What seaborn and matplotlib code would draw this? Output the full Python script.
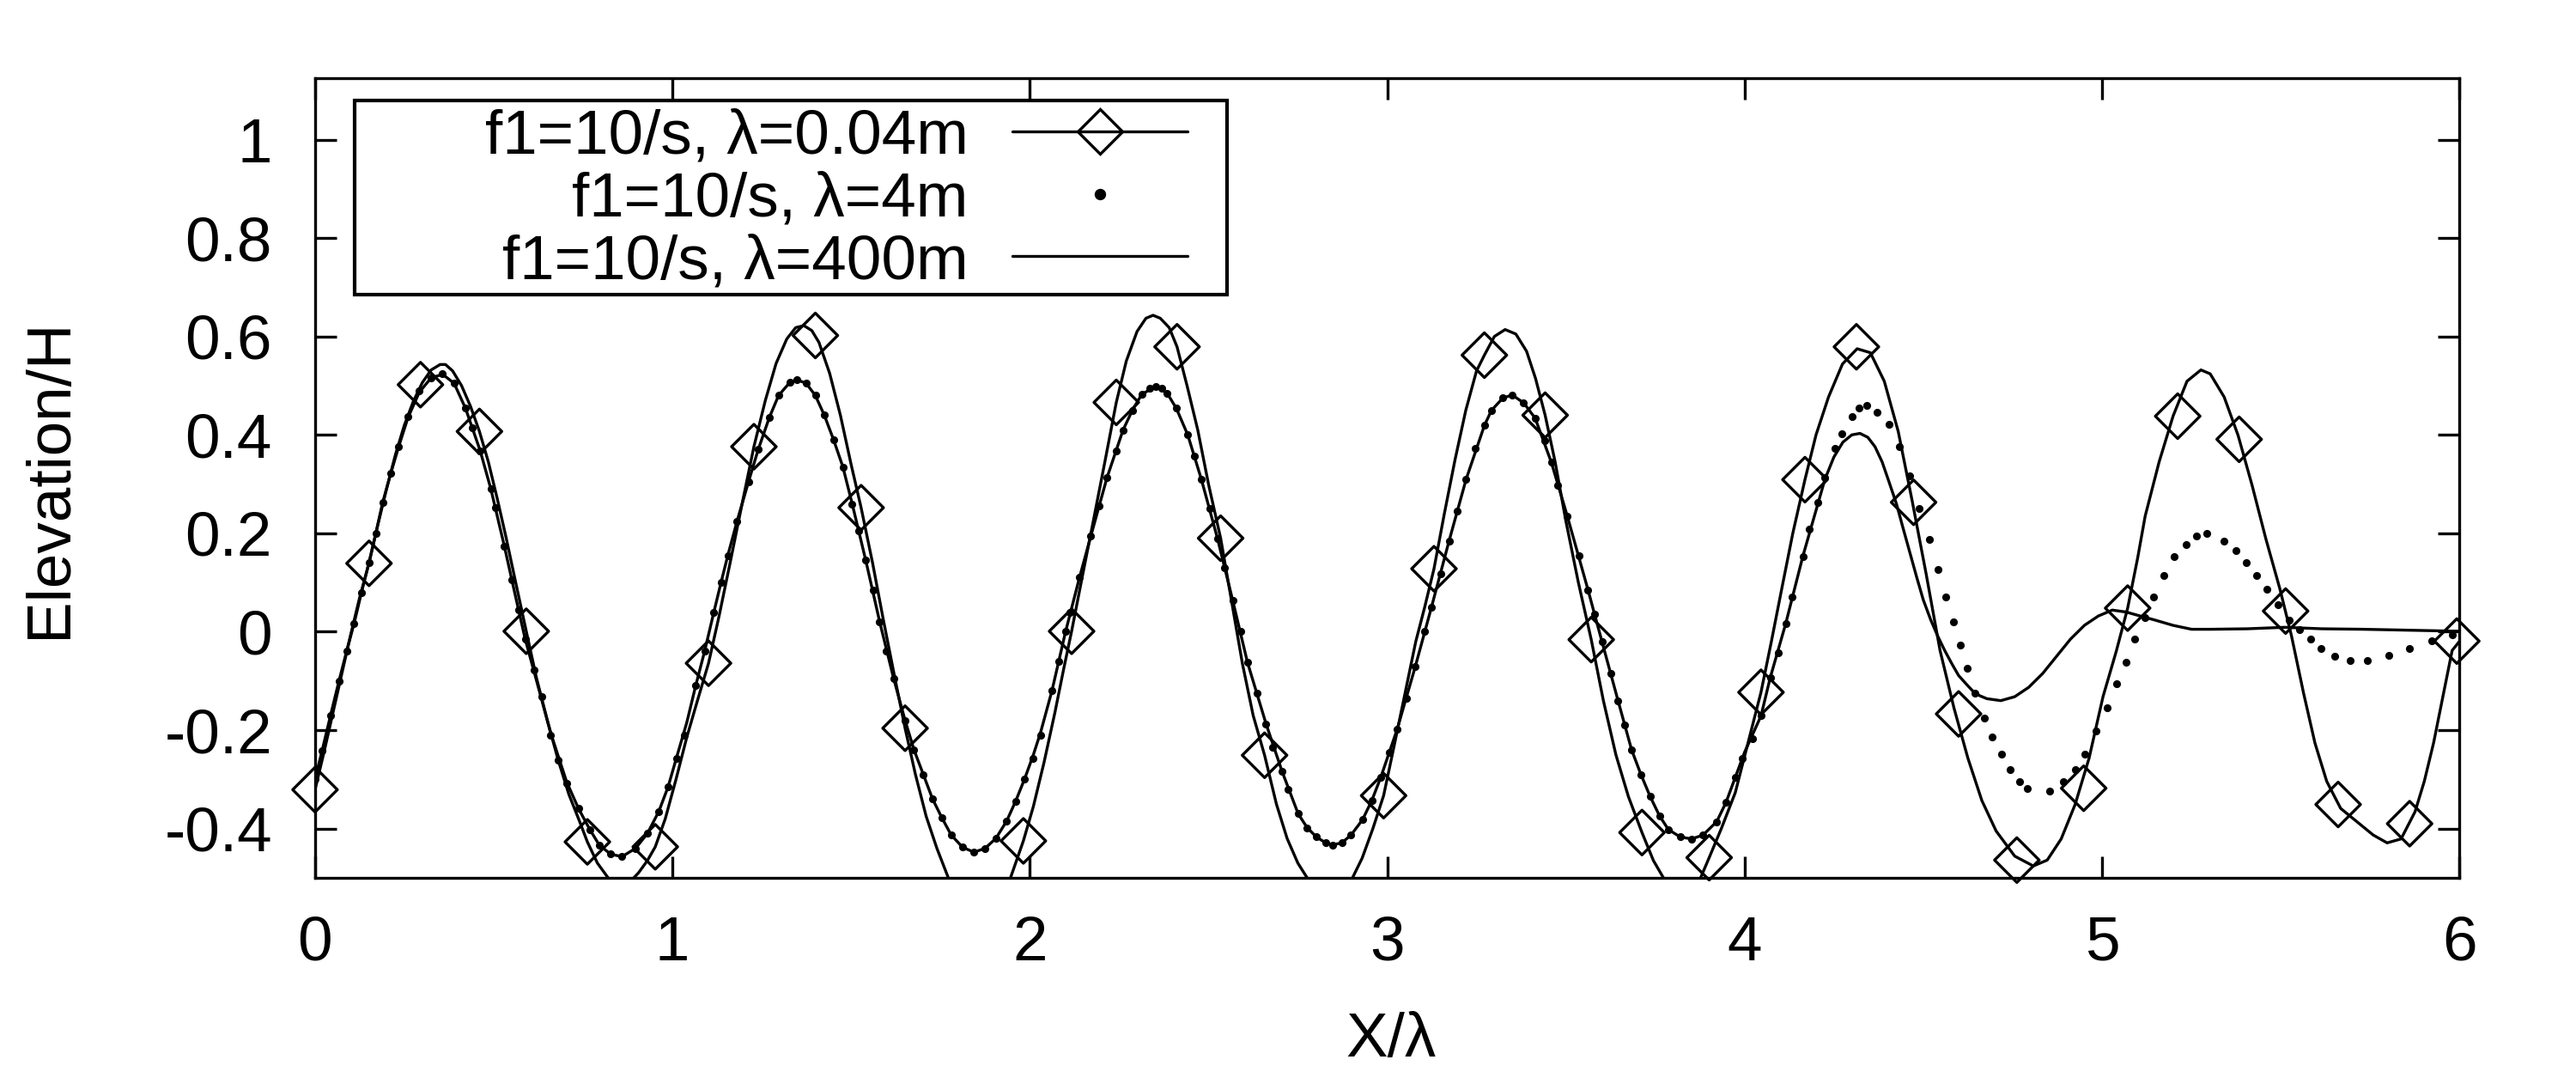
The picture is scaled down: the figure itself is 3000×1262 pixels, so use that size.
import matplotlib
matplotlib.use("Agg")

import matplotlib.pyplot as plt
from matplotlib.lines import Line2D
from matplotlib.patches import Rectangle
import seaborn as sns


# ======================================================================
# Data (X/lambda, Elevation/H)
# ======================================================================

# lambda = 0.04 m : solid line
a004_x = [0.000, 0.025, 0.050, 0.075, 0.100, 0.125, 0.151, 0.175, 0.200, 0.225,
          0.250, 0.275, 0.300, 0.325, 0.350, 0.365, 0.385, 0.410, 0.435, 0.460,
          0.485, 0.510, 0.535, 0.560, 0.591, 0.620, 0.650, 0.680, 0.710, 0.740,
          0.762, 0.790, 0.820, 0.845, 0.860, 0.880, 0.905, 0.930, 0.952, 0.980,
          1.010, 1.040, 1.070, 1.101, 1.130, 1.160, 1.195, 1.228, 1.260, 1.290,
          1.320, 1.345, 1.368, 1.390, 1.410, 1.440, 1.470, 1.500, 1.528, 1.560,
          1.590, 1.620, 1.651, 1.680, 1.710, 1.740, 1.772, 1.800, 1.830, 1.860,
          1.890, 1.920, 1.946, 1.982, 2.010, 2.040, 2.070, 2.095, 2.117, 2.145,
          2.175, 2.210, 2.242, 2.270, 2.300, 2.325, 2.345, 2.365, 2.390, 2.412,
          2.440, 2.470, 2.500, 2.534, 2.565, 2.595, 2.625, 2.657, 2.690, 2.720,
          2.750, 2.776, 2.805, 2.838, 2.870, 2.903, 2.930, 2.960, 2.990, 3.020,
          3.050, 3.080, 3.105, 3.131, 3.160, 3.190, 3.220, 3.250, 3.272, 3.300,
          3.330, 3.360, 3.390, 3.415, 3.442, 3.470, 3.500, 3.535, 3.571, 3.605,
          3.640, 3.675, 3.713, 3.745, 3.773, 3.800, 3.825, 3.850, 3.877, 3.901,
          3.935, 3.974, 4.010, 4.046, 4.075, 4.104, 4.135, 4.169, 4.200, 4.235,
          4.274, 4.315, 4.352, 4.391, 4.430, 4.469, 4.508, 4.547, 4.586, 4.625,
          4.664, 4.704, 4.756, 4.808, 4.847, 4.886, 4.925, 4.964, 5.003, 5.040,
          5.072, 5.100, 5.121, 5.160, 5.199, 5.238, 5.277, 5.303, 5.342, 5.381,
          5.420, 5.459, 5.498, 5.530, 5.564, 5.596, 5.629, 5.668, 5.720, 5.759,
          5.798, 5.837, 5.876, 5.902, 5.928, 5.954, 5.980, 6.000]
a004_y = [-0.321, -0.245, -0.165, -0.085, -0.005, 0.070, 0.139, 0.215, 0.290, 0.360,
          0.420, 0.468, 0.506, 0.532, 0.543, 0.543, 0.530, 0.500, 0.458, 0.407,
          0.345, 0.270, 0.190, 0.105, 0.001, -0.095, -0.180, -0.260, -0.330, -0.385,
          -0.427, -0.470, -0.500, -0.513, -0.515, -0.509, -0.490, -0.465, -0.437, -0.380,
          -0.300, -0.215, -0.140, -0.064, 0.030, 0.135, 0.260, 0.376, 0.470, 0.545,
          0.595, 0.618, 0.622, 0.612, 0.588, 0.525, 0.440, 0.340, 0.252, 0.140,
          0.025, -0.085, -0.196, -0.290, -0.375, -0.440, -0.500, -0.545, -0.585, -0.600,
          -0.585, -0.545, -0.500, -0.425, -0.355, -0.265, -0.165, -0.075, 0.001, 0.105,
          0.215, 0.345, 0.466, 0.550, 0.610, 0.637, 0.643, 0.637, 0.618, 0.579,
          0.500, 0.410, 0.300, 0.190, 0.060, -0.065, -0.170, -0.251, -0.350, -0.420,
          -0.470, -0.500, -0.522, -0.530, -0.522, -0.500, -0.460, -0.400, -0.333, -0.230,
          -0.125, -0.020, 0.050, 0.128, 0.240, 0.350, 0.450, 0.530, 0.562, 0.600,
          0.614, 0.605, 0.570, 0.515, 0.440, 0.345, 0.225, 0.100, -0.016, -0.140,
          -0.250, -0.335, -0.408, -0.465, -0.500, -0.518, -0.525, -0.518, -0.500, -0.459,
          -0.400, -0.327, -0.225, -0.123, -0.020, 0.087, 0.200, 0.309, 0.400, 0.477,
          0.544, 0.575, 0.567, 0.509, 0.407, 0.266, 0.118, -0.038, -0.155, -0.257,
          -0.343, -0.405, -0.456, -0.476, -0.464, -0.421, -0.351, -0.257, -0.132, -0.040,
          0.048, 0.150, 0.235, 0.345, 0.438, 0.509, 0.532, 0.524, 0.477, 0.399,
          0.298, 0.188, 0.087, -0.007, -0.124, -0.226, -0.304, -0.359, -0.390, -0.413,
          -0.429, -0.421, -0.366, -0.304, -0.226, -0.132, -0.038, -0.020]

# lambda = 0.04 m : diamond symbols
a004_mx = [0.000, 0.151, 0.295, 0.460, 0.591, 0.762, 0.952, 1.101, 1.228, 1.400,
           1.528, 1.651, 1.982, 2.117, 2.242, 2.412, 2.534, 2.657, 2.990, 3.131,
           3.272, 3.442, 3.571, 3.713, 3.901, 4.046, 4.169, 4.313, 4.473, 4.599,
           4.762, 4.949, 5.072, 5.212, 5.384, 5.514, 5.661, 5.861, 5.993]
a004_my = [-0.321, 0.139, 0.502, 0.407, 0.001, -0.427, -0.437, -0.064, 0.376, 0.602,
           0.252, -0.196, -0.425, 0.001, 0.466, 0.579, 0.190, -0.251, -0.333, 0.128,
           0.562, 0.440, -0.016, -0.408, -0.459, -0.123, 0.309, 0.579, 0.263, -0.167,
           -0.464, -0.318, 0.048, 0.438, 0.391, 0.042, -0.351, -0.390, -0.019]

# lambda = 4 m : dots
b4_x = [0.000, 0.020, 0.043, 0.067, 0.088, 0.109, 0.130, 0.151, 0.170, 0.189,
        0.212, 0.234, 0.260, 0.292, 0.325, 0.357, 0.389, 0.421, 0.441, 0.462,
        0.492, 0.505, 0.530, 0.550, 0.570, 0.588, 0.612, 0.634, 0.659, 0.681,
        0.704, 0.737, 0.769, 0.795, 0.827, 0.859, 0.897, 0.930, 0.962, 0.988,
        1.011, 1.033, 1.065, 1.090, 1.116, 1.136, 1.155, 1.181, 1.213, 1.240,
        1.271, 1.297, 1.329, 1.348, 1.374, 1.400, 1.425, 1.451, 1.477, 1.503,
        1.522, 1.541, 1.561, 1.580, 1.599, 1.619, 1.651, 1.676, 1.702, 1.728,
        1.754, 1.780, 1.812, 1.844, 1.875, 1.905, 1.935, 1.960, 1.985, 2.010,
        2.030, 2.062, 2.081, 2.100, 2.113, 2.139, 2.171, 2.194, 2.216, 2.242,
        2.261, 2.287, 2.313, 2.335, 2.352, 2.370, 2.384, 2.410, 2.442, 2.461,
        2.480, 2.503, 2.525, 2.545, 2.568, 2.590, 2.609, 2.635, 2.661, 2.680,
        2.706, 2.722, 2.751, 2.776, 2.802, 2.828, 2.847, 2.873, 2.899, 2.931,
        2.957, 2.982, 3.006, 3.028, 3.053, 3.079, 3.105, 3.124, 3.150, 3.173,
        3.195, 3.221, 3.247, 3.272, 3.292, 3.324, 3.350, 3.382, 3.414, 3.440,
        3.459, 3.478, 3.504, 3.536, 3.562, 3.580, 3.601, 3.626, 3.646, 3.665,
        3.684, 3.710, 3.736, 3.762, 3.787, 3.820, 3.852, 3.884, 3.922, 3.948,
        3.974, 3.993, 4.023, 4.046, 4.072, 4.094, 4.115, 4.133, 4.163, 4.182,
        4.206, 4.225, 4.254, 4.273, 4.300, 4.320, 4.343, 4.371, 4.404, 4.433,
        4.463, 4.489, 4.517, 4.541, 4.563, 4.584, 4.603, 4.623, 4.645, 4.671,
        4.693, 4.719, 4.743, 4.769, 4.792, 4.853, 4.893, 4.925, 4.951, 4.984,
        5.014, 5.042, 5.068, 5.092, 5.120, 5.144, 5.173, 5.203, 5.235, 5.264,
        5.293, 5.342, 5.375, 5.403, 5.433, 5.462, 5.492, 5.524, 5.553, 5.583,
        5.613, 5.652, 5.694, 5.742, 5.802, 5.861, 5.922, 5.980]
b4_y = [-0.300, -0.241, -0.170, -0.100, -0.040, 0.016, 0.080, 0.141, 0.200, 0.262,
        0.322, 0.376, 0.438, 0.489, 0.516, 0.524, 0.505, 0.454, 0.415, 0.368,
        0.290, 0.252, 0.173, 0.106, 0.045, -0.015, -0.077, -0.132, -0.210, -0.261,
        -0.308, -0.359, -0.402, -0.433, -0.452, -0.456, -0.440, -0.410, -0.365, -0.315,
        -0.257, -0.210, -0.110, -0.040, 0.040, 0.100, 0.155, 0.225, 0.305, 0.370,
        0.435, 0.480, 0.507, 0.512, 0.505, 0.480, 0.440, 0.390, 0.335, 0.260,
        0.205, 0.145, 0.085, 0.020, -0.040, -0.095, -0.180, -0.240, -0.290, -0.340,
        -0.378, -0.413, -0.438, -0.448, -0.440, -0.420, -0.385, -0.345, -0.300, -0.257,
        -0.210, -0.120, -0.060, 0.000, 0.040, 0.110, 0.195, 0.255, 0.313, 0.368,
        0.410, 0.450, 0.482, 0.495, 0.499, 0.495, 0.485, 0.454, 0.400, 0.356,
        0.310, 0.251, 0.190, 0.130, 0.063, 0.000, -0.062, -0.124, -0.187, -0.235,
        -0.284, -0.320, -0.370, -0.398, -0.417, -0.429, -0.433, -0.429, -0.413, -0.382,
        -0.343, -0.296, -0.245, -0.198, -0.135, -0.070, 0.000, 0.050, 0.118, 0.184,
        0.245, 0.310, 0.372, 0.419, 0.450, 0.475, 0.481, 0.465, 0.434, 0.388,
        0.345, 0.298, 0.235, 0.155, 0.085, 0.035, -0.020, -0.085, -0.140, -0.190,
        -0.240, -0.290, -0.335, -0.374, -0.402, -0.417, -0.421, -0.413, -0.386, -0.347,
        -0.296, -0.257, -0.218, -0.171, -0.093, -0.042, 0.016, 0.071, 0.153, 0.208,
        0.262, 0.313, 0.372, 0.403, 0.438, 0.455, 0.459, 0.446, 0.421, 0.376,
        0.317, 0.251, 0.188, 0.126, 0.071, 0.020, -0.027, -0.075, -0.124, -0.175,
        -0.214, -0.249, -0.280, -0.304, -0.318, -0.323, -0.304, -0.280, -0.249, -0.202,
        -0.155, -0.105, -0.062, -0.015, 0.028, 0.071, 0.114, 0.153, 0.177, 0.195,
        0.200, 0.184, 0.165, 0.141, 0.114, 0.087, 0.055, 0.024, 0.005, -0.015,
        -0.034, -0.050, -0.058, -0.058, -0.048, -0.034, -0.019, -0.007]

# lambda = 400 m : solid line
c400_x = [0.000, 0.020, 0.045, 0.067, 0.090, 0.109, 0.130, 0.151, 0.170, 0.189,
          0.212, 0.234, 0.260, 0.292, 0.325, 0.357, 0.389, 0.421, 0.462, 0.492,
          0.530, 0.560, 0.588, 0.620, 0.659, 0.704, 0.737, 0.769, 0.795, 0.827,
          0.859, 0.897, 0.930, 0.962, 0.988, 1.011, 1.040, 1.065, 1.090, 1.116,
          1.136, 1.155, 1.181, 1.213, 1.240, 1.271, 1.297, 1.329, 1.348, 1.374,
          1.400, 1.425, 1.451, 1.477, 1.503, 1.541, 1.580, 1.619, 1.651, 1.676,
          1.702, 1.728, 1.754, 1.780, 1.812, 1.844, 1.875, 1.905, 1.935, 1.960,
          1.985, 2.010, 2.030, 2.062, 2.081, 2.100, 2.139, 2.171, 2.216, 2.261,
          2.287, 2.313, 2.352, 2.384, 2.410, 2.442, 2.480, 2.525, 2.568, 2.609,
          2.661, 2.706, 2.751, 2.776, 2.802, 2.828, 2.847, 2.873, 2.899, 2.931,
          2.957, 2.982, 3.028, 3.079, 3.124, 3.173, 3.221, 3.272, 3.292, 3.324,
          3.350, 3.382, 3.414, 3.459, 3.504, 3.562, 3.601, 3.646, 3.684, 3.710,
          3.736, 3.762, 3.787, 3.820, 3.852, 3.884, 3.922, 3.948, 3.974, 4.000,
          4.046, 4.072, 4.115, 4.163, 4.206, 4.225, 4.250, 4.275, 4.300, 4.323,
          4.345, 4.365, 4.385, 4.404, 4.425, 4.443, 4.463, 4.482, 4.500, 4.521,
          4.540, 4.560, 4.580, 4.599, 4.620, 4.638, 4.658, 4.678, 4.717, 4.756,
          4.795, 4.834, 4.873, 4.912, 4.951, 4.990, 5.029, 5.068, 5.107, 5.147,
          5.199, 5.251, 5.303, 5.407, 5.511, 5.615, 5.733, 5.863, 6.000]
c400_y = [-0.300, -0.241, -0.165, -0.100, -0.035, 0.016, 0.080, 0.141, 0.200, 0.262,
          0.322, 0.376, 0.435, 0.487, 0.516, 0.523, 0.505, 0.454, 0.368, 0.290,
          0.173, 0.075, -0.015, -0.100, -0.205, -0.305, -0.359, -0.402, -0.433, -0.452,
          -0.457, -0.440, -0.410, -0.365, -0.315, -0.257, -0.185, -0.110, -0.040, 0.040,
          0.100, 0.155, 0.225, 0.305, 0.370, 0.435, 0.480, 0.507, 0.512, 0.505,
          0.480, 0.440, 0.390, 0.335, 0.260, 0.145, 0.020, -0.095, -0.180, -0.240,
          -0.290, -0.340, -0.378, -0.413, -0.438, -0.448, -0.440, -0.420, -0.385, -0.345,
          -0.300, -0.250, -0.205, -0.120, -0.060, 0.000, 0.110, 0.195, 0.313, 0.410,
          0.450, 0.482, 0.499, 0.485, 0.454, 0.400, 0.310, 0.190, 0.063, -0.062,
          -0.187, -0.284, -0.370, -0.398, -0.417, -0.429, -0.433, -0.429, -0.413, -0.382,
          -0.343, -0.296, -0.198, -0.070, 0.050, 0.184, 0.310, 0.419, 0.450, 0.475,
          0.481, 0.465, 0.434, 0.345, 0.235, 0.085, -0.020, -0.140, -0.240, -0.290,
          -0.335, -0.374, -0.402, -0.417, -0.421, -0.413, -0.386, -0.347, -0.296, -0.245,
          -0.171, -0.093, 0.016, 0.153, 0.262, 0.310, 0.355, 0.385, 0.400, 0.403,
          0.395, 0.376, 0.345, 0.305, 0.260, 0.212, 0.160, 0.110, 0.065, 0.024,
          -0.008, -0.038, -0.065, -0.089, -0.106, -0.120, -0.130, -0.136, -0.140, -0.132,
          -0.113, -0.085, -0.050, -0.015, 0.013, 0.032, 0.044, 0.040, 0.032, 0.024,
          0.013, 0.005, 0.005, 0.006, 0.009, 0.006, 0.005, 0.003, 0.001]

x_ticks = [0, 1, 2, 3, 4, 5, 6]
y_ticks = [-0.4, -0.2, 0.0, 0.2, 0.4, 0.6, 0.8, 1.0]
y_tick_labels = ["-0.4", "-0.2", "0", "0.2", "0.4", "0.6", "0.8", "1"]

series_labels = ["f1=10/s, \u03bb=0.04m", "f1=10/s, \u03bb=4m", "f1=10/s, \u03bb=400m"]


# ======================================================================
# Style
# ======================================================================

sns.set_style("white")
plt.rcParams["font.family"] = ["Liberation Sans", "DejaVu Sans"]
plt.rcParams.update({
    "font.size": 17.5,
    "text.color": "black",
    "axes.labelcolor": "black",
    "axes.edgecolor": "black",
    "xtick.color": "black",
    "ytick.color": "black",
})

FS = 17.5
LW = 0.8


# ======================================================================
# Plot
# ======================================================================

fig, ax = plt.subplots(figsize=(10, 4.207), dpi=300)
fig.subplots_adjust(left=0.1223, right=0.9547, bottom=0.1902, top=0.9279)

sns.lineplot(x=c400_x, y=c400_y, color="black", lw=LW,
             estimator=None, sort=False, ax=ax)
sns.lineplot(x=a004_x, y=a004_y, color="black", lw=LW,
             estimator=None, sort=False, ax=ax)
sns.scatterplot(x=b4_x, y=b4_y, s=4.8, color="black", linewidth=0, ax=ax)
sns.scatterplot(x=a004_mx, y=a004_my, marker="D", s=78,
                facecolor="none", edgecolor="black", linewidth=LW,
                clip_on=False, zorder=3, ax=ax)

ax.set_xlim(0, 6)
ax.set_ylim(-0.5, 1.125)
ax.set_xticks(x_ticks)
ax.set_yticks(y_ticks)
ax.set_yticklabels(y_tick_labels)

ax.tick_params(direction="in", length=6, width=LW, labelsize=FS,
               bottom=True, left=True, top=True, right=True)
ax.tick_params(axis="x", pad=10.5)
ax.tick_params(axis="y", pad=12)
for spine in ax.spines.values():
    spine.set_linewidth(LW)
    spine.set_color("black")

ax.set_xlabel("X/\u03bb", fontsize=FS)
ax.set_ylabel("Elevation/H", fontsize=FS)
ax.xaxis.set_label_coords(0.502, -0.168)
ax.yaxis.set_label_coords(-0.110, 0.5)

# legend: gnuplot-style box with right-aligned labels
ax.add_patch(Rectangle((0.0184, 0.7293), 0.4069, 0.2428, transform=ax.transAxes,
                       facecolor="white", edgecolor="black", lw=1.0, zorder=4))
handles = [
    Line2D([], [], color="black", lw=LW, marker="D", ms=8.8,
           mfc="none", mec="black", mew=LW),
    Line2D([], [], ls="none", marker="o", ms=2.2, color="black"),
    Line2D([], [], color="black", lw=LW),
]
leg = ax.legend(handles, series_labels, loc="upper right",
                bbox_to_anchor=(0.4069, 0.962), borderaxespad=0, borderpad=0,
                frameon=False, markerfirst=False, handlelength=2.8,
                handletextpad=0.7, labelspacing=0.08, fontsize=FS)
leg.set_zorder(5)

fig.savefig("out.png", dpi=300)
plt.close(fig)
